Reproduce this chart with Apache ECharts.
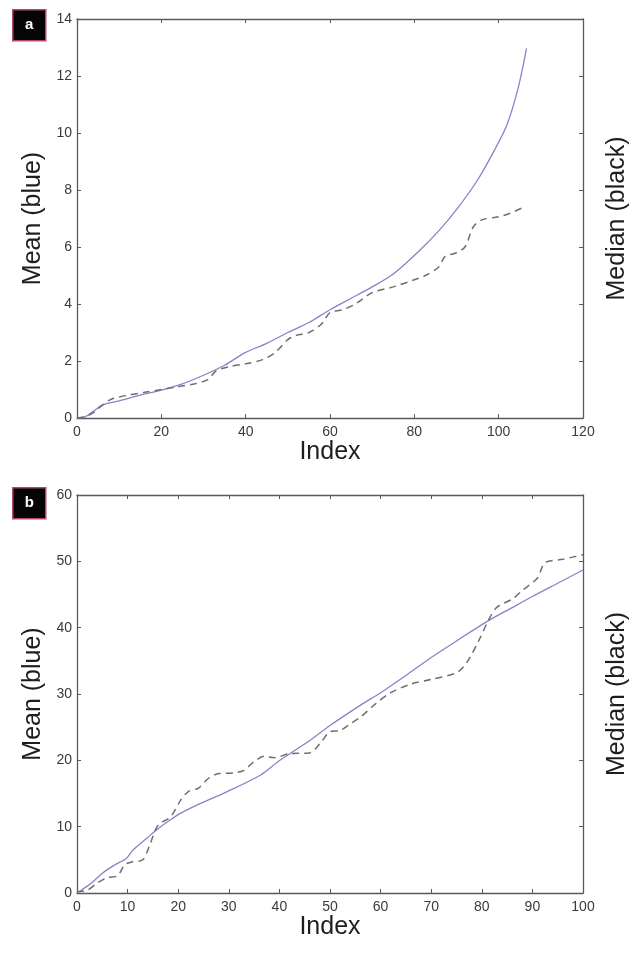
<!DOCTYPE html>
<html lang="en">
<head>
	<meta charset="UTF-8">
	<title>Mean and median by index</title>
	<script src="https://cdn.jsdelivr.net/npm/echarts@6/dist/echarts.min.js"></script>
	<style>
		html, body { margin: 0; padding: 0; background: #fff; }
		#main { width: 638px; height: 969px; }
	</style>
</head>
<body>
<div id="main"></div>
<script>
	// panel a : index vs value
	var aMeanX = [0, 2, 4, 6, 10, 15, 20, 25, 30, 35, 40, 45, 50, 55, 60, 65, 70, 75, 81, 86, 90.5, 95, 99, 102, 104.7, 106.6];
	var aMeanY = [0, 0.05, 0.25, 0.45, 0.6, 0.8, 0.98, 1.2, 1.5, 1.85, 2.3, 2.62, 3.0, 3.35, 3.8, 4.2, 4.6, 5.05, 5.84, 6.6, 7.41, 8.35, 9.4, 10.3, 11.63, 12.97];
	var aMedX = [0, 2, 4, 6, 8, 12, 16, 20, 24, 28, 31, 33, 36, 40, 44, 47, 50, 52, 55, 58, 60, 63, 66, 70, 75, 80, 82.6, 85.8, 87.3, 89.7, 92, 94, 96, 100, 103, 105.4];
	var aMedY = [0, 0.05, 0.2, 0.45, 0.65, 0.8, 0.9, 1.0, 1.1, 1.2, 1.35, 1.65, 1.8, 1.9, 2.05, 2.3, 2.75, 2.9, 3.0, 3.3, 3.7, 3.8, 4.0, 4.4, 4.6, 4.85, 5.0, 5.3, 5.67, 5.78, 6.0, 6.71, 6.95, 7.06, 7.2, 7.36];

	// panel b
	var bMeanX = [0, 1, 3, 5.2, 7.5, 9.8, 11.1, 13.8, 15.7, 18.4, 20.4, 23.7, 29.6, 36.2, 40.1, 46, 50, 55.9, 60, 65, 70, 75, 81.4, 85, 90, 95, 100];
	var bMeanY = [0, 0.5, 1.6, 3.1, 4.25, 5.25, 6.5, 8.25, 9.5, 11, 12, 13.25, 15.25, 17.75, 20, 23, 25.25, 28.25, 30.2, 32.8, 35.5, 38, 41.1, 42.6, 44.7, 46.7, 48.7];
	var bMedX = [0, 2, 4, 6, 8, 9.5, 11, 13, 14.5, 16, 18.5, 20.5, 22, 24, 26, 28, 31, 33, 35, 37, 39, 42, 46, 48, 50, 52, 54, 56, 59, 62, 66, 70, 75, 77, 79.5, 81.5, 83, 86, 88, 91, 92.5, 96, 100];
	var bMedY = [0.2, 0.4, 1.5, 2.3, 2.6, 4.3, 4.7, 5.0, 7.5, 10.2, 11.5, 14, 15.3, 15.8, 17.3, 18, 18.1, 18.5, 19.8, 20.6, 20.4, 21, 21.1, 22.5, 24.3, 24.5, 25.5, 26.5, 28.5, 30.2, 31.5, 32.2, 33.2, 34.7, 38.2, 41.4, 43.1, 44.3, 45.6, 47.5, 49.8, 50.3, 51];

	var aXMax = 120, aXStep = 20, aYMax = 14, aYStep = 2;
	var bXMax = 100, bXStep = 10, bYMax = 60, bYStep = 10;

	function pairs(xs, ys){ // zip x and y lists
		var out = [];
		for(var i=0; i<xs.length; i++){
			out.push([xs[i], ys[i]]);
		}
		return out;
	}

	var FONT = 'Liberation Sans, Arial, sans-serif';
	var lineCol = '#5a5a5a';

	function axisBase(grid, max, step, pos, showLabel){
		return {
			type: 'value', gridIndex: grid, min: 0, max: max, interval: step, position: pos,
			axisLine: { show: true, onZero: false, lineStyle: { color: lineCol, width: 1.3 } },
			axisTick: { show: true, inside: true, length: 4, lineStyle: { color: lineCol } },
			axisLabel: { show: showLabel, fontFamily: FONT, fontSize: 14, color: '#3a3a3a', margin: showLabel ? 5 : 8 },
			splitLine: { show: false }
		};
	}
	function named(ax, name, gap){
		ax.name = name;
		ax.nameLocation = 'middle';
		ax.nameGap = gap;
		ax.nameTextStyle = { fontFamily: FONT, fontSize: 25, color: '#1e1e1e' };
		return ax;
	}
	function vname(ax, name, gap){
		named(ax, name, gap);
		ax.nameRotate = 90;
		return ax;
	}

	var xAxes = [
		named(axisBase(0, aXMax, aXStep, 'bottom', true), 'Index', 16),
		axisBase(0, aXMax, aXStep, 'top', false),
		named(axisBase(1, bXMax, bXStep, 'bottom', true), 'Index', 16),
		axisBase(1, bXMax, bXStep, 'top', false)
	];
	xAxes[0].axisLabel.margin = 7;
	xAxes[2].axisLabel.margin = 7;
	var yAxes = [
		vname(axisBase(0, aYMax, aYStep, 'left', true), 'Mean (blue)', 27),
		vname(axisBase(0, aYMax, aYStep, 'right', false), 'Median (black)', 22),
		vname(axisBase(1, bYMax, bYStep, 'left', true), 'Mean (blue)', 27),
		vname(axisBase(1, bYMax, bYStep, 'right', false), 'Median (black)', 22)
	];

	var meanStyle = { color: '#8285c9', width: 1.3 };
	var medStyle = { color: '#6e6e6e', width: 1.5, type: [7, 5] };

	function line(data, xi, yi, style){
		return {
			type: 'line', data: data, xAxisIndex: xi, yAxisIndex: yi,
			showSymbol: false, smooth: 0.3, lineStyle: style, animation: false, silent: true
		};
	}

	function tagBox(label, top){ // the small black a / b boxes
		return {
			type: 'group', left: 12, top: top,
			children: [
				{ type: 'rect', shape: { x: 0, y: 0, width: 33, height: 31 },
					style: { fill: '#050505', stroke: '#b24a62', lineWidth: 1.5 } },
				{ type: 'text', x: 16.5, y: 15.5,
					style: { text: label, fill: '#fff', font: 'bold 15px ' + FONT, textAlign: 'center', textVerticalAlign: 'middle' } }
			]
		};
	}

	var chart = echarts.init(document.getElementById('main'));
	chart.setOption({
		backgroundColor: '#fff',
		animation: false,
		grid: [
			{ left: 77, top: 19, width: 508, height: 399 },
			{ left: 77, top: 495, width: 507, height: 398 }
		],
		xAxis: xAxes,
		yAxis: yAxes,
		graphic: [tagBox('a', 9), tagBox('b', 487)],
		series: [
			line(pairs(aMeanX, aMeanY), 0, 0, meanStyle),
			line(pairs(aMedX, aMedY), 0, 0, medStyle),
			line(pairs(bMeanX, bMeanY), 2, 2, meanStyle),
			line(pairs(bMedX, bMedY), 2, 2, medStyle)
		]
	});
</script>
</body>
</html>
